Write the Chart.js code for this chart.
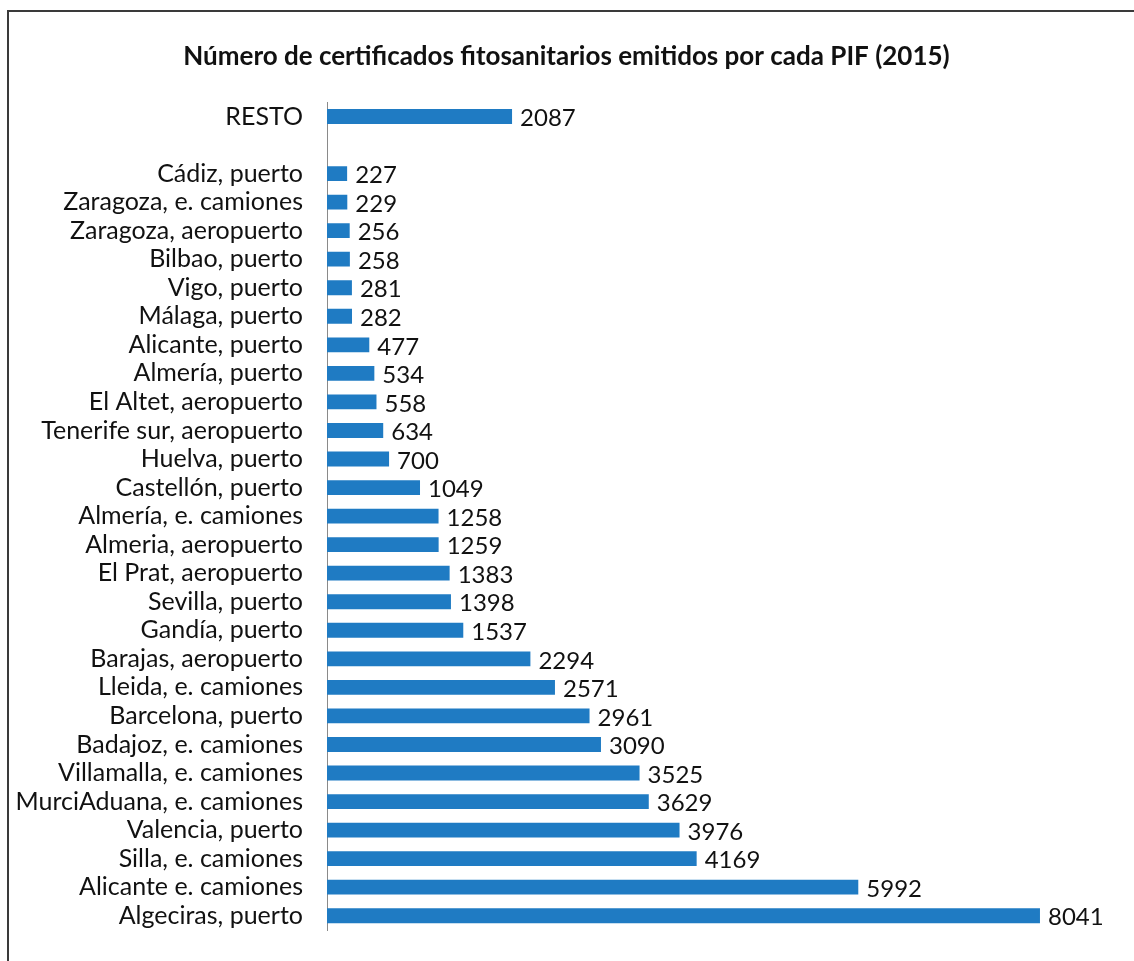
<!DOCTYPE html>
<html>
<head>
<meta charset="utf-8">
<script src="https://cdn.jsdelivr.net/npm/chart.js@4"></script>
<style>
  html, body { margin: 0; padding: 0; background: #fff; }
  #wrap { position: relative; width: 1134px; height: 961px; }
  #frame { position: absolute; left: 7px; top: 10px; right: -4px; bottom: -4px;
           border-top: 2px solid #3a3a3a; border-left: 2px solid #3a3a3a; }
  canvas { position: absolute; left: 0; top: 0; }
</style>
</head>
<body>
<div id="wrap">
  <div id="frame"></div>
  <canvas id="myChart" width="1134" height="961"></canvas>
</div>
<script>
// etiquetas (de arriba a abajo), la fila vacía separa RESTO del resto
var pifs = [
    'RESTO', '',
    'Cádiz, puerto', 'Zaragoza, e. camiones', 'Zaragoza, aeropuerto', 'Bilbao, puerto',
    'Vigo, puerto', 'Málaga, puerto', 'Alicante, puerto', 'Almería, puerto',
    'El Altet, aeropuerto', 'Tenerife sur, aeropuerto', 'Huelva, puerto', 'Castellón, puerto',
    'Almería, e. camiones', 'Almeria, aeropuerto', 'El Prat, aeropuerto', 'Sevilla, puerto',
    'Gandía, puerto', 'Barajas, aeropuerto', 'Lleida, e. camiones', 'Barcelona, puerto',
    'Badajoz, e. camiones', 'Villamalla, e. camiones', 'MurciAduana, e. camiones',
    'Valencia, puerto', 'Silla, e. camiones', 'Alicante e. camiones', 'Algeciras, puerto'
];
var certificados = [
    2087, null,
    227, 229, 256, 258,
    281, 282, 477, 534,
    558, 634, 700, 1049,
    1258, 1259, 1383, 1398,
    1537, 2294, 2571, 2961,
    3090, 3525, 3629,
    3976, 4169, 5992, 8041
];
var titulo = 'Número de certificados fitosanitarios emitidos por cada PIF (2015)';

// valores al final de cada barra
var valueLabels = {
    id: 'valueLabels',
    afterDatasetsDraw: function (chart) {
        var ctx = chart.ctx;
        var meta = chart.getDatasetMeta(0);
        ctx.save();
        ctx.font = '24px Lato';
        ctx.fillStyle = '#111';
        ctx.textAlign = 'left';
        ctx.textBaseline = 'middle';
        meta.data.forEach(function (bar, i) {
            var v = certificados[i];
            if (v === null) return;
            ctx.fillText(String(v), bar.x + 8, bar.y + 2);
        });
        ctx.restore();
    }
};

const config = {
    type: 'bar',
    data: {
        labels: pifs,
        datasets: [{
            data: certificados,
            backgroundColor: '#1f7bc3',
            borderWidth: 0,
            barPercentage: 0.52,
            categoryPercentage: 1
        }]
    },
    options: {
        indexAxis: 'y',
        responsive: false,
        animation: false,
        layout: { padding: { left: 8, right: 9, top: 0, bottom: 31 } },
        plugins: {
            legend: { display: false },
            tooltip: { enabled: false },
            title: {
                display: true,
                text: titulo,
                color: '#111',
                font: { family: 'Lato', size: 26, weight: 'bold', lineHeight: 1.2 },
                padding: { top: 41, bottom: 30 }
            }
        },
        scales: {
            x: { display: false, min: 0, max: 9000 },
            y: {
                grid: { display: false },
                border: { display: true, color: '#8a8a8a', width: 1 },
                ticks: { color: '#111', font: { family: 'Lato', size: 25 }, padding: 16, autoSkip: false },
                afterFit: function (s) { s.width = 319; }
            }
        }
    },
    plugins: [valueLabels]
};

const myChart = new Chart(document.getElementById('myChart'), config);
</script>
</body>
</html>
